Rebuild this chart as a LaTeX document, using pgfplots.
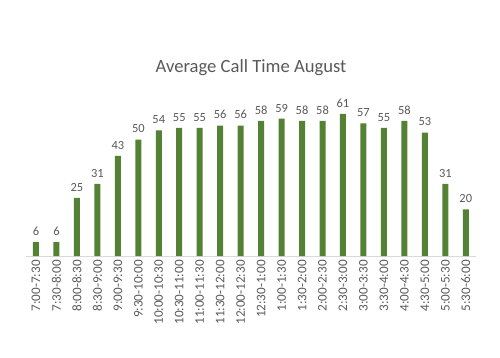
\documentclass[border=0pt]{standalone}
\usepackage{pgfplots}
\pgfplotsset{compat=1.18}
\usepackage{fontspec}
\setmainfont{Carlito}
\definecolor{bargreen}{HTML}{548235}
\definecolor{txtgray}{HTML}{595959}
\definecolor{axgray}{HTML}{D9D9D9}
\begin{document}
\begin{tikzpicture}[x=1bp,y=1bp]
\useasboundingbox (0,0) rectangle (500,357);
\node[font=\fontsize{18.7}{22}\selectfont, text=txtgray] at (251,289) {Average Call Time August};
\begin{axis}[
  at={(25.75bp,101bp)}, anchor=south west,
  scale only axis, width=450.25bp, height=163bp,
  xmin=-0.5, xmax=21.5, ymin=0, ymax=70,
  hide y axis,
  axis x line*=bottom,
  x axis line style={draw=axgray, line width=1bp, -},
  ybar, bar width=6bp,
  xtick=data,
  xticklabels={7:00-7:30,7:30-8:00,8:00-8:30,8:30-9:00,9:00-9:30,9:30-10:00,10:00-10:30,10:30-11:00,11:00-11:30,11:30-12:00,12:00-12:30,12:30-1:00,1:00-1:30,1:30-2:00,2:00-2:30,2:30-3:00,3:00-3:30,3:30-4:00,4:00-4:30,4:30-5:00,5:00-5:30,5:30-6:00},
  xticklabel style={rotate=90, anchor=east, font=\fontsize{13.2}{15}\selectfont, text=txtgray, inner xsep=4bp, inner ysep=0pt},
  major tick length=0pt,
  /pgf/number format/assume math mode=true,
  clip=false,
  nodes near coords,
  every node near coord/.append style={font=\fontsize{12.5}{14}\selectfont, text=txtgray, anchor=south, yshift=3bp},
]
\addplot[fill=bargreen, draw=none] coordinates {
(0,6) (1,6) (2,25) (3,31) (4,43) (5,50) (6,54) (7,55) (8,55) (9,56) (10,56)
(11,58) (12,59) (13,58) (14,58) (15,61) (16,57) (17,55) (18,58) (19,53) (20,31) (21,20)
};
\end{axis}
\end{tikzpicture}
\end{document}
